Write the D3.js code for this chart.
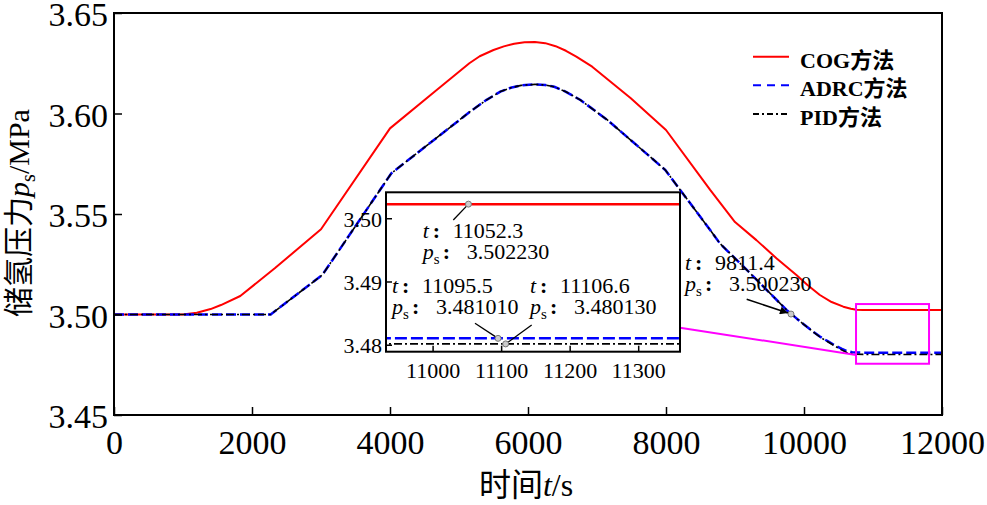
<!DOCTYPE html>
<html><head><meta charset="utf-8">
<script src="https://cdn.jsdelivr.net/npm/d3@7"></script>
<style>
html,body{margin:0;padding:0;background:#fff;}
svg{display:block;}
text{font-family:"Liberation Serif","Times New Roman",Tinos,Times,"DejaVu Serif","Noto Sans CJK SC",serif;fill:#000;}
</style></head><body>
<svg id="c" width="987" height="505"></svg>
<script>
// ---------- data ----------
const tCOG = [0, 1000, 1200, 1400, 1550, 1830, 2330, 3000, 4000, 4650, 5150, 5300, 5500, 5650, 5800, 5950, 6100, 6250, 6400, 6550, 6700, 6930, 7490, 8000, 8640, 9000, 9310, 9600, 9890, 10050, 10230, 10400, 10570, 10680, 10760, 10850, 12000];
const pCOG = [3.5, 3.5, 3.5009, 3.5027, 3.5047, 3.5092, 3.523, 3.5424, 3.5926, 3.6109, 3.625, 3.6285, 3.6316, 3.6334, 3.6347, 3.6355, 3.6356, 3.635, 3.6335, 3.6312, 3.6283, 3.6233, 3.6076, 3.5918, 3.562, 3.546, 3.537, 3.528, 3.5197, 3.5147, 3.5097, 3.5062, 3.5039, 3.5029, 3.50235, 3.50223, 3.50223];
const tADRC = [0, 2270, 3020, 4020, 5160, 5400, 5600, 5750, 5900, 6100, 6250, 6380, 6550, 6760, 7150, 7600, 7990, 8640, 8780, 9220, 9750, 9900, 10000, 10120, 10230, 10350, 10450, 10550, 10620, 10700, 10760, 10900, 12000];
const pADRC = [3.5, 3.5, 3.5197, 3.5703, 3.6009, 3.6068, 3.6109, 3.6128, 3.614, 3.6145, 3.6142, 3.6133, 3.6108, 3.6067, 3.5968, 3.5835, 3.5719, 3.542, 3.5354, 3.5205, 3.5022, 3.4978, 3.495, 3.4918, 3.489, 3.4866, 3.4846, 3.4829, 3.4818, 3.4812, 3.4811, 3.48101, 3.48101];
const tPID = tADRC;
const pPID = [3.5, 3.5, 3.5197, 3.5703, 3.6009, 3.6068, 3.6109, 3.6128, 3.614, 3.6145, 3.6142, 3.6133, 3.6108, 3.6067, 3.5968, 3.5835, 3.5719, 3.542, 3.5354, 3.5205, 3.5022, 3.4978, 3.495, 3.4917, 3.4888, 3.4863, 3.4842, 3.4823, 3.4811, 3.4804, 3.4802, 3.48013, 3.48013];
const seriesNames = ["COG方法", "ADRC方法", "PID方法"];
const xTicks = [0, 2000, 4000, 6000, 8000, 10000, 12000];
const yTicks = [3.45, 3.50, 3.55, 3.60, 3.65];
const insetXTicks = [11000, 11100, 11200, 11300];
const insetYTicks = [3.48, 3.49, 3.50];
const insetXDomain = [10932, 11361];
const insetYDomain = [3.4789, 3.5041];
const zoomBoxX = [10754, 11812];
const zoomBoxY = [3.4755, 3.5052];
const tipT = [11052.3, 11095.5, 11106.6, 9811.4];
const tipP = [3.502230, 3.481010, 3.480130, 3.500230];
const connector = {insetP: 3.4827, mainP: 3.4799};

// ---------- layout ----------
const FONT = '"Liberation Serif","Times New Roman",Tinos,Times,"DejaVu Serif","Noto Sans CJK SC",serif';
const CJK = '"Noto Sans CJK SC","Noto Sans CJK JP",sans-serif';
const svg = d3.select("#c");
const M = {l:114, r:942, t:13, b:415};
const x = d3.scaleLinear([0, 12000], [M.l, M.r]);
const y = d3.scaleLinear([3.45, 3.65], [M.b, M.t]);
const I = {l:386, r:680, t:192.3, b:351.7};
const xi = d3.scaleLinear(insetXDomain, [I.l, I.r]);
const yi = d3.scaleLinear(insetYDomain, [I.b, I.t]);

const styles = [
  {color:"#ff0000", dash:null, w:2, legDash:null},
  {color:"#0000ff", dash:"10,4", w:2.5, legDash:"8,6"},
  {color:"#000000", dash:"8,3,2,3", w:1.6, legDash:"6,3,2,3"}
];
const seriesT = [tCOG, tADRC, tPID];
const seriesP = [pCOG, pADRC, pPID];

const defs = svg.append("defs");
defs.append("clipPath").attr("id","mainclip")
  .append("rect").attr("x",M.l).attr("y",M.t).attr("width",M.r-M.l).attr("height",M.b-M.t);
defs.append("clipPath").attr("id","insetclip")
  .append("rect").attr("x",I.l).attr("y",I.t).attr("width",I.r-I.l).attr("height",I.b-I.t);
defs.append("marker").attr("id","arr").attr("viewBox","0 0 10 10")
  .attr("refX",10).attr("refY",5).attr("markerWidth",12).attr("markerHeight",8)
  .attr("markerUnits","userSpaceOnUse").attr("orient","auto")
  .append("path").attr("d","M0,0 L10,5 L0,10 Z").attr("fill","#000");

// main curves
const gMain = svg.append("g").attr("clip-path","url(#mainclip)");
[0,1,2].forEach(k=>{
  const pts = seriesT[k].map((t,i)=>[t, seriesP[k][i]]);
  const line = d3.line().x(d=>x(d[0])).y(d=>y(d[1]));
  gMain.append("path").attr("d", line(pts)).attr("fill","none")
    .attr("stroke", styles[k].color).attr("stroke-width", styles[k].w)
    .attr("stroke-dasharray", styles[k].dash).attr("stroke-linejoin","round");
});

// main axes
const fs = 34;
const ax = svg.append("g").attr("transform",`translate(0,${M.b})`)
  .call(d3.axisBottom(x).tickValues(xTicks).tickFormat(d3.format("d")).tickSizeInner(-8).tickSizeOuter(0));
ax.select(".domain").remove();
ax.selectAll("line").attr("stroke","#000").attr("stroke-width",1.5);
ax.selectAll("text").attr("y",39).attr("dy",null).style("font-size",fs+"px").style("font-family",FONT);
const ay = svg.append("g").attr("transform",`translate(${M.l},0)`)
  .call(d3.axisLeft(y).tickValues(yTicks).tickFormat(d3.format(".2f")).tickSizeInner(-8).tickSizeOuter(0).tickPadding(6));
ay.select(".domain").remove();
ay.selectAll("line").attr("stroke","#000").attr("stroke-width",1.5);
ay.selectAll("text").attr("dy","0.38em").style("font-size",fs+"px").style("font-family",FONT);
svg.append("rect").attr("x",M.l).attr("y",M.t).attr("width",M.r-M.l).attr("height",M.b-M.t)
  .attr("fill","none").attr("stroke","#000").attr("stroke-width",2);

// axis titles
const xt = svg.append("text").attr("x",526).attr("y",496).attr("text-anchor","middle").style("font-size","32px");
xt.append("tspan").text("时间").style("font-family",CJK);
xt.append("tspan").text("t").style("font-style","italic");
xt.append("tspan").text("/s");
const yt = svg.append("text").attr("transform","translate(29,213) rotate(-90)").attr("text-anchor","middle").style("font-size","30px");
yt.append("tspan").text("储氢压力").style("font-family",CJK);
yt.append("tspan").text("p").style("font-style","italic");
yt.append("tspan").text("s").style("font-size","20px").attr("dy",6);
yt.append("tspan").text("/MPa").attr("dy",-6);

// legend
const legY = [56.7, 85.3, 114];
seriesNames.forEach((nm,k)=>{
  svg.append("line").attr("x1",753).attr("x2",789).attr("y1",legY[k]).attr("y2",legY[k])
    .attr("stroke",styles[k].color).attr("stroke-width",2).attr("stroke-dasharray",styles[k].legDash);
  const m = nm.match(/^([A-Z]+)(.*)$/);
  const tx = svg.append("text").attr("x",800).attr("y",legY[k]+11).style("font-size","22px").style("font-weight","bold");
  tx.append("tspan").text(m[1]);
  tx.append("tspan").text(m[2]).style("font-family",CJK);
});

// zoom box on main plot
svg.append("rect").attr("x",x(zoomBoxX[0])).attr("y",y(zoomBoxY[1]))
  .attr("width",x(zoomBoxX[1])-x(zoomBoxX[0])).attr("height",y(zoomBoxY[0])-y(zoomBoxY[1]))
  .attr("fill","none").attr("stroke","#ff00ff").attr("stroke-width",2);
svg.append("line").attr("x1",I.r).attr("y1",yi(connector.insetP)).attr("x2",x(zoomBoxX[0])).attr("y2",y(connector.mainP))
  .attr("stroke","#ff00ff").attr("stroke-width",2);

// annotation helper
function annot(g, tx, ty, k){
  const t1 = g.append("text").attr("x",tx).attr("y",ty).style("font-size","22px");
  t1.append("tspan").text("t").style("font-style","italic");
  g.append("text").attr("x",tx+10).attr("y",ty).style("font-size","22px").style("font-weight","bold").text(":");
  g.append("text").attr("x",tx+30).attr("y",ty).style("font-size","22px").text(tipT[k].toFixed(1));
  const t2 = g.append("text").attr("x",tx).attr("y",ty+21).style("font-size","22px");
  t2.append("tspan").text("p").style("font-style","italic");
  t2.append("tspan").text("s").style("font-size","15px").attr("dy",5);
  g.append("text").attr("x",tx+20).attr("y",ty+21).style("font-size","22px").style("font-weight","bold").text(":");
  g.append("text").attr("x",tx+44).attr("y",ty+21).style("font-size","22px").text(tipP[k].toFixed(6));
}
function tipMarker(g, px, py){
  g.append("circle").attr("cx",px).attr("cy",py).attr("r",3).attr("fill","#ccc").attr("stroke","#777").attr("stroke-width",1);
}

// main annotation
const gA = svg.append("g");
annot(gA, 685, 269.5, 3);
gA.append("line").attr("x1",746.7).attr("y1",299.3).attr("x2",x(tipT[3])-3).attr("y2",y(tipP[3])-1)
  .attr("stroke","#000").attr("stroke-width",1.5).attr("marker-end","url(#arr)");
tipMarker(gA, x(tipT[3]), y(tipP[3]));

// inset
const gI = svg.append("g");
gI.append("rect").attr("x",I.l).attr("y",I.t).attr("width",I.r-I.l).attr("height",I.b-I.t).attr("fill","#fff");
const gIc = gI.append("g").attr("clip-path","url(#insetclip)");
[0,1,2].forEach(k=>{
  const pts = seriesT[k].map((t,i)=>[t, seriesP[k][i]]);
  const line = d3.line().x(d=>xi(d[0])).y(d=>yi(d[1]));
  gIc.append("path").attr("d", line(pts)).attr("fill","none")
    .attr("stroke", styles[k].color).attr("stroke-width", k===2?1.6:2.5)
    .attr("stroke-dasharray", k===1?"12,4":(k===2?"8,3,2,3":null));
});
const ix = gI.append("g").attr("transform",`translate(0,${I.b})`)
  .call(d3.axisBottom(xi).tickValues(insetXTicks).tickFormat(d3.format("d")).tickSizeInner(-6).tickSizeOuter(0));
ix.select(".domain").remove();
ix.selectAll("line").attr("stroke","#000").attr("stroke-width",1.5);
ix.selectAll("text").attr("y",26).attr("dy",null).style("font-size","22px").style("font-family",FONT);
const iy = gI.append("g").attr("transform",`translate(${I.l},0)`)
  .call(d3.axisLeft(yi).tickValues(insetYTicks).tickFormat(d3.format(".2f")).tickSizeInner(-6).tickSizeOuter(0).tickPadding(4));
iy.select(".domain").remove();
iy.selectAll("line").attr("stroke","#000").attr("stroke-width",1.5);
iy.selectAll("text").attr("dy","0.36em").style("font-size","22px").style("font-family",FONT);
gI.append("rect").attr("x",I.l).attr("y",I.t).attr("width",I.r-I.l).attr("height",I.b-I.t)
  .attr("fill","none").attr("stroke","#000").attr("stroke-width",2);

// inset annotations
annot(gI, 422.7, 238.3, 0);
gI.append("line").attr("x1",453.3).attr("y1",220).attr("x2",xi(tipT[0])).attr("y2",yi(tipP[0])).attr("stroke","#000").attr("stroke-width",1.3);
tipMarker(gI, xi(tipT[0]), yi(tipP[0]));
annot(gI, 392, 293.3, 1);
gI.append("line").attr("x1",475).attr("y1",323.3).attr("x2",xi(tipT[1])).attr("y2",yi(tipP[1])).attr("stroke","#000").attr("stroke-width",1.3);
tipMarker(gI, xi(tipT[1]), yi(tipP[1]));
annot(gI, 530, 293.3, 2);
gI.append("line").attr("x1",531.7).attr("y1",325).attr("x2",xi(tipT[2])).attr("y2",yi(tipP[2])).attr("stroke","#000").attr("stroke-width",1.3);
tipMarker(gI, xi(tipT[2]), yi(tipP[2]));
</script></body></html>
